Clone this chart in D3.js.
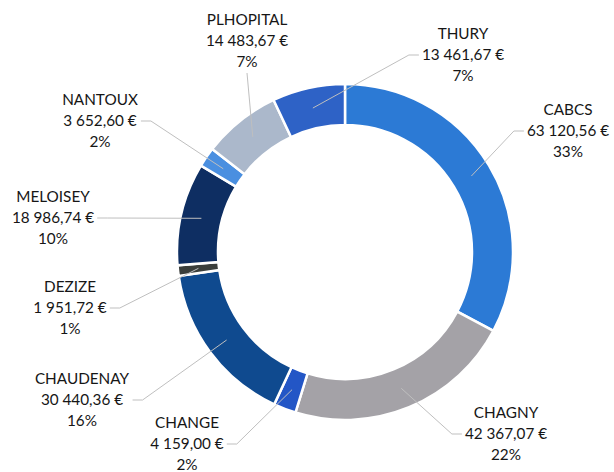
<!DOCTYPE html>
<html>
<head>
<meta charset="utf-8">
<script src="https://cdn.jsdelivr.net/npm/d3@7"></script>
<style>
  body { margin: 0; background: #fff; }
  text { font-family: Lato, "Open Sans", sans-serif; fill: #161616; }
</style>
</head>
<body>
<div id="chart"></div>
<script>
// slices, clockwise from 12 o'clock
var communes = ["CABCS", "CHAGNY", "CHANGE", "CHAUDENAY", "DEZIZE", "MELOISEY", "NANTOUX", "PLHOPITAL", "THURY"];
var montants = [63120.56, 42367.07, 4159.00, 30440.36, 1951.72, 18986.74, 3652.60, 14483.67, 13461.67];
var pourcents = ["33%", "22%", "2%", "16%", "1%", "10%", "2%", "7%", "7%"];
var couleurs = ["#2c7ad5", "#a4a2a7", "#2356c6", "#0f4a8f", "#3a3e3b", "#0e2e62", "#4a8fe0", "#abb8cb", "#2e62c6"];

// label placement (centre x, first baseline y), relative to the donut centre
var labelPos = [[223, -137], [161, 166], [-158, 176], [-263, 132], [-275, 40], [-292, -50], [-245, -147], [-98, -227], [118, -213]];

var w = 614, h = 472;
var cx = 345, cy = 252, rOut = 168, rIn = 127;
var lineH = 21;

var fr = d3.formatLocale({ decimal: ",", thousands: "\u202f", grouping: [3], currency: ["", " €"] });
var fmt = fr.format(",.2f");

var svg = d3.select("#chart").append("svg").attr("width", w).attr("height", h);
var g = svg.append("g").attr("transform", "translate(" + cx + "," + cy + ")");

var pie = d3.pie().sort(null).value(function(d) { return d; });
var arcs = pie(montants);
var arc = d3.arc().innerRadius(rIn).outerRadius(rOut);
var midArc = d3.arc().innerRadius((rIn + rOut) / 2).outerRadius((rIn + rOut) / 2);

g.selectAll("path.slice").data(arcs).enter().append("path")
	.attr("class", "slice")
	.attr("d", arc)
	.attr("fill", function(d, i) { return couleurs[i]; })
	.attr("stroke", "#fff")
	.attr("stroke-width", 2.5);

// labels + leader lines
var labels = g.selectAll("g.lbl").data(arcs).enter().append("g").attr("class", "lbl");
labels.each(function(d, i) {
	var el = d3.select(this);
	var p = labelPos[i];
	var lines = [communes[i], fmt(montants[i]) + " €", pourcents[i]];
	var t = el.append("text").attr("text-anchor", "middle").attr("font-size", 15.3);
	lines.forEach(function(s, k) {
		t.append("tspan").attr("x", p[0]).attr("y", p[1] + k * lineH).text(s);
	});
	var bb = t.node().getBBox();
	var c = midArc.centroid(d);
	var pts;
	if (c[0] > bb.x && c[0] < bb.x + bb.width && c[1] > bb.y + bb.height) {
		// label sits above its slice: drop straight down
		pts = [[p[0], bb.y + bb.height + 3], c];
	} else {
		var ly = p[1] + lineH - 5;
		var left = c[0] < bb.x;
		var sx = left ? bb.x - 3 : bb.x + bb.width + 3;
		var stub = left ? sx - 10 : sx + 10;
		pts = [[sx, ly], [stub, ly], c];
	}
	el.insert("path", "text")
		.attr("d", d3.line()(pts))
		.attr("fill", "none")
		.attr("stroke", "#bfbfbf")
		.attr("stroke-width", 1);
});
</script>
</body>
</html>
